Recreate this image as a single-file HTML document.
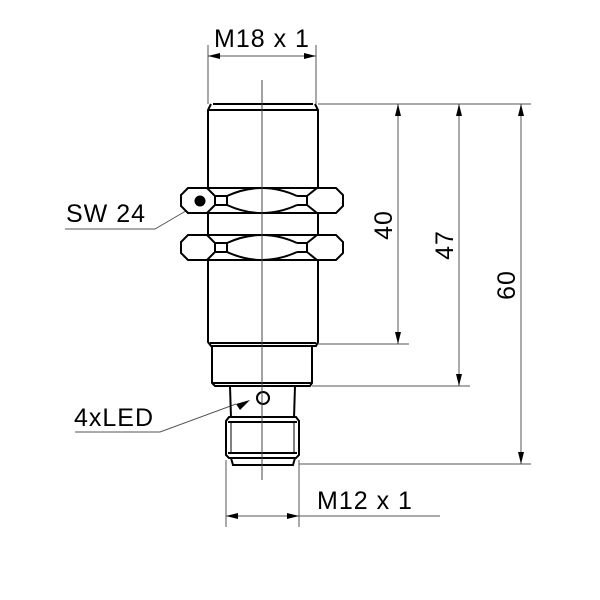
<!DOCTYPE html>
<html><head><style>body{margin:0;background:#fff}svg{display:block}text{font-family:"Liberation Sans",sans-serif;fill:#000}</style></head>
<body>
<svg width="600" height="600" viewBox="0 0 600 600" xmlns="http://www.w3.org/2000/svg">
<defs>
<marker id="a" viewBox="0 0 12 6" refX="12" refY="3" markerWidth="12" markerHeight="6" orient="auto-start-reverse" markerUnits="userSpaceOnUse"><path d="M0,0 L12,3 L0,6z" fill="#000"/></marker>
</defs>
<g stroke="#555" stroke-width="1" fill="none">
<line x1="208" y1="45" x2="208" y2="104"/><line x1="316" y1="45" x2="316" y2="104"/>
<line x1="208" y1="56" x2="316" y2="56" marker-start="url(#a)" marker-end="url(#a)"/>
<line x1="318" y1="104" x2="531" y2="104"/>
<line x1="318" y1="344" x2="409" y2="344"/>
<line x1="312" y1="386" x2="470" y2="386"/>
<line x1="299" y1="464" x2="531" y2="464"/>
<line x1="398" y1="104" x2="398" y2="344" marker-start="url(#a)" marker-end="url(#a)"/>
<line x1="459" y1="104" x2="459" y2="386" marker-start="url(#a)" marker-end="url(#a)"/>
<line x1="521" y1="104" x2="521" y2="464" marker-start="url(#a)" marker-end="url(#a)"/>
<line x1="226" y1="460" x2="226" y2="527"/><line x1="299" y1="460" x2="299" y2="527"/>
<line x1="226" y1="516" x2="299" y2="516" marker-start="url(#a)" marker-end="url(#a)"/>
<line x1="299" y1="516" x2="440" y2="516"/>
<polyline points="65,229 155,229 196,205"/>
<polyline points="75,432 160,432 236,404"/>
</g>
<path d="M236,404 L250,400 L240,410z" fill="#000"/>
<g stroke="#000" stroke-width="2" fill="none">
<path d="M213,104 L313,104 M208,110 L318,110 M211,104 L208,110 L208,342 L211,346 L316,346 L318,342 L318,110 L315,104"/>
<line x1="210" y1="343" x2="316" y2="343"/>
<path d="M212,346 L212,383 L215,386 L310,386 L312,383 L312,346"/>
<line x1="213" y1="383" x2="311" y2="383"/>
<line x1="230" y1="386" x2="231" y2="418"/><line x1="295" y1="386" x2="294" y2="418"/>
<circle cx="263" cy="398" r="6" fill="#fff"/>
<path d="M229,417 L296,417 L299,421 L299,455 L296,458 L229,458 L226,455 L226,421 Z"/>
<line x1="228" y1="422" x2="297" y2="422"/><line x1="228" y1="453" x2="297" y2="453"/>
<path d="M231,458 L233,465 L293,465 L295,458"/>
<line x1="231" y1="423" x2="231" y2="453" stroke-width="1"/><line x1="294" y1="423" x2="294" y2="453" stroke-width="1"/>
<g id="n">
<path d="M188,188 L336,188 L343,195 L343,206 L336,213 L188,213 L181,206 L181,195 Z" fill="#fff"/>
<path d="M207,188 L215,196 L215,205 L207,213 M215,196 L227,196 L227,205 L215,205 M227,196 Q262,180 297,196 M227,205 Q262,221 297,205 M297,196 L307,196 L307,205 L297,205 M317,188 L307,196 M317,213 L307,205"/>
</g>
<use href="#n" transform="translate(0,47)"/>
</g>
<line x1="262" y1="80" x2="262" y2="480" stroke="#444" stroke-width="1"/>
<circle cx="200" cy="201" r="5.5" fill="#000"/>
<g font-size="25" letter-spacing="1">
<text x="214" y="47">M18 x 1</text>
<text x="66" y="222">SW 24</text>
<text x="74" y="426">4xLED</text>
<text x="317" y="509">M12 x 1</text>
<text transform="translate(392,225) rotate(-90)" text-anchor="middle">40</text>
<text transform="translate(453,245) rotate(-90)" text-anchor="middle">47</text>
<text transform="translate(515,285) rotate(-90)" text-anchor="middle">60</text>
</g>
</svg>
</body></html>
